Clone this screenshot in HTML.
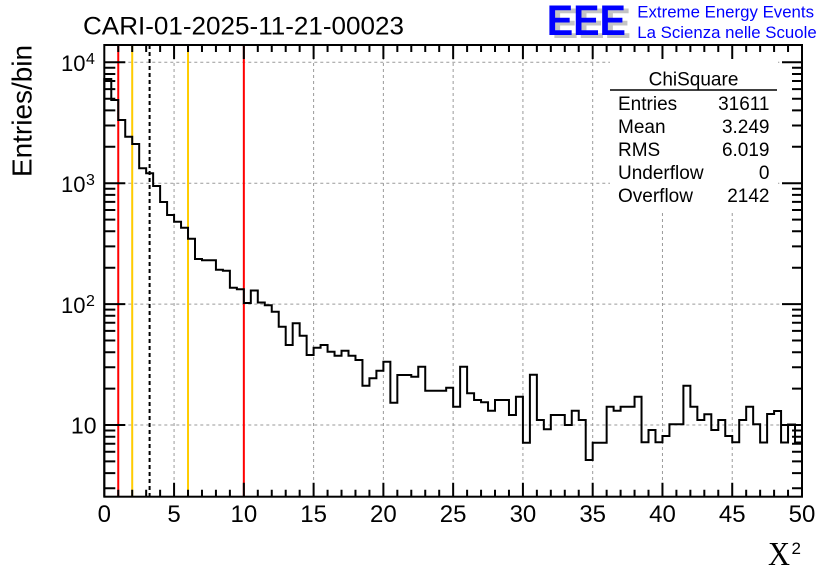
<!DOCTYPE html>
<html>
<head>
<meta charset="utf-8">
<style>
html,body{margin:0;padding:0;background:#fff;}
svg{display:block;}
text{font-family:"Liberation Sans",Arial,Helvetica,sans-serif;}
</style>
</head>
<body>
<svg width="836" height="572" viewBox="0 0 836 572" xmlns="http://www.w3.org/2000/svg">
<rect x="0" y="0" width="836" height="572" fill="#fff"/>

<!-- grid -->
<g stroke="#9a9a9a" stroke-width="1" stroke-dasharray="3,3" fill="none">
<path d="M174.07 45V496.7M243.84 45V496.7M313.61 45V496.7M383.38 45V496.7M453.15 45V496.7M522.92 45V496.7M592.69 45V496.7M662.46 45V496.7M732.23 45V496.7"/>
<path d="M104.3 62.3H802M104.3 183.2H802M104.3 304.1H802M104.3 425H802"/>
</g>

<!-- stats box background -->
<rect x="610" y="54" width="168" height="157" fill="#fff"/>

<!-- vertical marker lines -->
<g stroke-width="2" fill="none">
<line x1="118.25" y1="45" x2="118.25" y2="496.7" stroke="#ff0000"/>
<line x1="132.21" y1="45" x2="132.21" y2="496.7" stroke="#ffcc00"/>
<line x1="188.02" y1="45" x2="188.02" y2="496.7" stroke="#ffcc00"/>
<line x1="243.84" y1="45" x2="243.84" y2="496.7" stroke="#ff0000"/>
<line x1="149.6" y1="45" x2="149.6" y2="496.7" stroke="#000" stroke-dasharray="4,3"/>
</g>

<!-- histogram -->
<path transform="translate(104.3 0) scale(6.977 1)" vector-effect="non-scaling-stroke" stroke="#000" stroke-width="2" fill="none"
d="M0 496.7V79H1V100H2V120H3V136.7H4V144H5V168.3H6V173.3H7V186H8V202H9V215H10V221.7H11V227.7H12V238.7H13V259H14V260.3H16V269.7H17V270.7H18V287.7H19V289.3H20V303H21V290.5H22V302.5H23V305.3H24V311.7H25V326.7H26V345H27V323.3H28V335.7H29V355H30V347.7H31V345H32V351.7H33V355.7H34V350.7H35V355.7H36V360H37V385.7H38V378.3H39V370.7H40V361.7H41V402.7H42V375H44V376.7H45V366.7H46V390.7H49V387.7H50V406.7H51V366.7H52V393.3H53V400H54V402.3H55V410.7H56V400H58V415H59V396.7H60V442.7H61V374.7H62V420H63V429.3H64V415H66V425H67V410.7H68V420H69V460H70V442.7H72V406.7H73V410.7H74V406.7H76V396.7H77V442.3H78V430H79V442.3H80V436H81V424.3H83V385.7H84V406.7H85V420H86V414.3H87V430H88V420H89V436H90V442.3H91V420H92V406.7H93V424.3H94V442.5H95V414H96V411H97V442.5H98V424.5H99V442.5H100V496.7"/>

<!-- x ticks (unit = 0.5) -->
<g transform="translate(104.3 0) scale(6.977 1)">
<path vector-effect="non-scaling-stroke" stroke="#000" stroke-width="2" fill="none"
d="M2 45V52M4 45V52M6 45V52M8 45V52M10 45V59M12 45V52M14 45V52M16 45V52M18 45V52M20 45V59M22 45V52M24 45V52M26 45V52M28 45V52M30 45V59M32 45V52M34 45V52M36 45V52M38 45V52M40 45V59M42 45V52M44 45V52M46 45V52M48 45V52M50 45V59M52 45V52M54 45V52M56 45V52M58 45V52M60 45V59M62 45V52M64 45V52M66 45V52M68 45V52M70 45V59M72 45V52M74 45V52M76 45V52M78 45V52M80 45V59M82 45V52M84 45V52M86 45V52M88 45V52M90 45V59M92 45V52M94 45V52M96 45V52M98 45V52
M2 496.7V489.7M4 496.7V489.7M6 496.7V489.7M8 496.7V489.7M10 496.7V482.7M12 496.7V489.7M14 496.7V489.7M16 496.7V489.7M18 496.7V489.7M20 496.7V482.7M22 496.7V489.7M24 496.7V489.7M26 496.7V489.7M28 496.7V489.7M30 496.7V482.7M32 496.7V489.7M34 496.7V489.7M36 496.7V489.7M38 496.7V489.7M40 496.7V482.7M42 496.7V489.7M44 496.7V489.7M46 496.7V489.7M48 496.7V489.7M50 496.7V482.7M52 496.7V489.7M54 496.7V489.7M56 496.7V489.7M58 496.7V489.7M60 496.7V482.7M62 496.7V489.7M64 496.7V489.7M66 496.7V489.7M68 496.7V489.7M70 496.7V482.7M72 496.7V489.7M74 496.7V489.7M76 496.7V489.7M78 496.7V489.7M80 496.7V482.7M82 496.7V489.7M84 496.7V489.7M86 496.7V489.7M88 496.7V489.7M90 496.7V482.7M92 496.7V489.7M94 496.7V489.7M96 496.7V489.7M98 496.7V489.7"/>
</g>

<!-- y ticks -->
<g stroke="#000" stroke-width="2" fill="none">
<path d="M104.3 62.3H125.3M104.3 183.2H125.3M104.3 304.1H125.3M104.3 425H125.3
M104.3 67.8H115.3M104.3 74H115.3M104.3 81H115.3M104.3 89.1H115.3M104.3 98.7H115.3M104.3 110.4H115.3M104.3 125.5H115.3M104.3 146.8H115.3
M104.3 188.7H115.3M104.3 194.9H115.3M104.3 201.9H115.3M104.3 210H115.3M104.3 219.6H115.3M104.3 231.3H115.3M104.3 246.4H115.3M104.3 267.7H115.3
M104.3 309.6H115.3M104.3 315.8H115.3M104.3 322.8H115.3M104.3 330.9H115.3M104.3 340.5H115.3M104.3 352.2H115.3M104.3 367.3H115.3M104.3 388.6H115.3
M104.3 430.5H115.3M104.3 436.7H115.3M104.3 443.7H115.3M104.3 451.8H115.3M104.3 461.4H115.3M104.3 473.1H115.3M104.3 488.2H115.3"/>
<path d="M802 62.3H782M802 183.2H782M802 304.1H782M802 425H782
M802 67.8H792M802 74H792M802 81H792M802 89.1H792M802 98.7H792M802 110.4H792M802 125.5H792M802 146.8H792
M802 188.7H792M802 194.9H792M802 201.9H792M802 210H792M802 219.6H792M802 231.3H792M802 246.4H792M802 267.7H792
M802 309.6H792M802 315.8H792M802 322.8H792M802 330.9H792M802 340.5H792M802 352.2H792M802 367.3H792M802 388.6H792
M802 430.5H792M802 436.7H792M802 443.7H792M802 451.8H792M802 461.4H792M802 473.1H792M802 488.2H792"/>
</g>

<!-- frame -->
<rect x="104.3" y="45" width="697.7" height="451.7" fill="none" stroke="#000" stroke-width="2"/>

<!-- stats -->
<line x1="610" y1="90" x2="777" y2="90" stroke="#000" stroke-width="1.6"/>
<g font-size="19" fill="#000">
<text x="693.5" y="85.7" text-anchor="middle">ChiSquare</text>
<text x="618" y="110">Entries</text>
<text x="618" y="133">Mean</text>
<text x="618" y="156">RMS</text>
<text x="618" y="179">Underflow</text>
<text x="618" y="202">Overflow</text>
<text x="769.5" y="110" text-anchor="end">31611</text>
<text x="769.5" y="133" text-anchor="end">3.249</text>
<text x="769.5" y="156" text-anchor="end">6.019</text>
<text x="769.5" y="179" text-anchor="end">0</text>
<text x="769.5" y="202" text-anchor="end">2142</text>
</g>

<!-- title -->
<text x="83" y="34.3" font-size="25" textLength="321" lengthAdjust="spacingAndGlyphs">CARI-01-2025-11-21-00023</text>

<!-- y axis title -->
<text transform="translate(31.7 45) rotate(-90)" text-anchor="end" font-size="28" textLength="132" lengthAdjust="spacingAndGlyphs">Entries/bin</text>

<!-- y labels -->
<g fill="#000">
<text x="85.5" y="71" font-size="22" text-anchor="end">10</text>
<text x="86" y="64" font-size="16">4</text>
<text x="85.5" y="192" font-size="22" text-anchor="end">10</text>
<text x="86" y="185" font-size="16">3</text>
<text x="85.5" y="313" font-size="22" text-anchor="end">10</text>
<text x="86" y="306" font-size="16">2</text>
<text x="96.5" y="433.5" font-size="23" text-anchor="end">10</text>
</g>

<!-- x labels -->
<g font-size="24" text-anchor="middle" fill="#000">
<text x="104.3" y="522">0</text>
<text x="174.07" y="522">5</text>
<text x="243.84" y="522">10</text>
<text x="313.61" y="522">15</text>
<text x="383.38" y="522">20</text>
<text x="453.15" y="522">25</text>
<text x="522.92" y="522">30</text>
<text x="592.69" y="522">35</text>
<text x="662.46" y="522">40</text>
<text x="732.23" y="522">45</text>
<text x="802" y="522">50</text>
</g>

<!-- x axis title -->
<text x="768" y="565" font-size="34" style="font-family:'Liberation Serif','Times New Roman',serif" textLength="22" lengthAdjust="spacingAndGlyphs">X</text>
<text x="791.5" y="554" font-size="17">2</text>

<!-- logo -->
<text x="551.7" y="38" font-size="42.5" font-weight="bold" fill="#c4c4c4" textLength="79.3" lengthAdjust="spacingAndGlyphs">EEE</text>
<text x="546.7" y="35" font-size="42.5" font-weight="bold" fill="#0000ff" textLength="79.3" lengthAdjust="spacingAndGlyphs">EEE</text>
<text x="637.3" y="17.5" font-size="16.5" fill="#0000ff" textLength="176.7" lengthAdjust="spacingAndGlyphs">Extreme Energy Events</text>
<text x="637.3" y="38" font-size="16.5" fill="#0000ff" textLength="179.4" lengthAdjust="spacingAndGlyphs">La Scienza nelle Scuole</text>
</svg>
</body>
</html>
